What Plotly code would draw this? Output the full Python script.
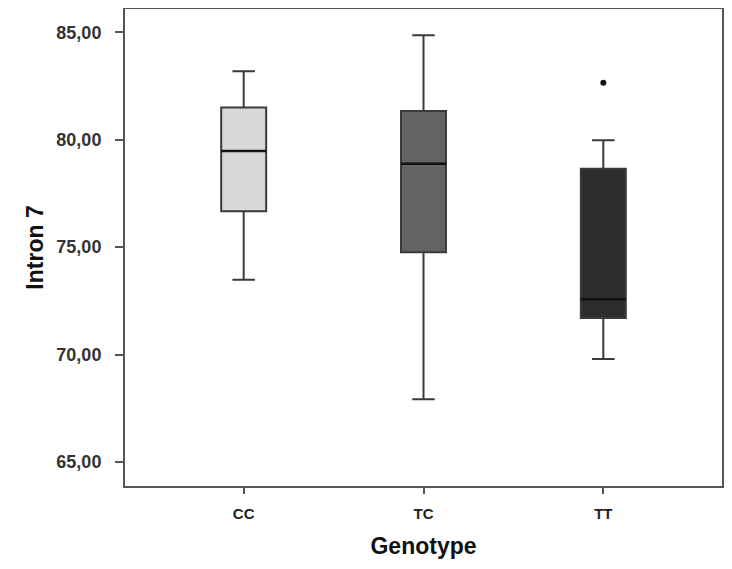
import plotly.graph_objects as go

genotypes = ["CC", "TC", "TT"]
lower_whisker = [73.48, 67.92, 69.79]
q1_values = [76.67, 74.76, 71.70]
medians = [79.47, 78.88, 72.57]
q3_values = [81.49, 81.33, 78.64]
upper_whisker = [83.18, 84.86, 79.97]
fill_colors = ["#d8d8d8", "#636363", "#2c2c2c"]

outlier_genotypes = ["TT"]
outlier_values = [82.65]

y_ticks = [65, 70, 75, 80, 85]
y_tick_labels = ["65,00", "70,00", "75,00", "80,00", "85,00"]

FONT = "Liberation Sans, Arial, sans-serif"

fig = go.Figure()
for i, g in enumerate(genotypes):
    fig.add_trace(go.Box(
        x=[g],
        q1=[q1_values[i]], median=[medians[i]], q3=[q3_values[i]],
        lowerfence=[lower_whisker[i]], upperfence=[upper_whisker[i]],
        fillcolor=fill_colors[i],
        line=dict(color="#3a3a3a", width=2),
        width=0.25,
        whiskerwidth=0.5,
        boxpoints=False,
        showlegend=False,
        hoverinfo="skip",
    ))
    fig.add_trace(go.Scatter(
        x=[i - 0.125, i + 0.125], y=[medians[i], medians[i]],
        mode="lines", line=dict(color="#111111", width=2.5),
        showlegend=False, hoverinfo="skip", xaxis="x2",
    ))

fig.add_trace(go.Scatter(
    x=outlier_genotypes, y=outlier_values, mode="markers",
    marker=dict(color="#111111", size=6),
    showlegend=False, hoverinfo="skip",
))

fig.update_layout(
    width=732, height=569,
    margin=dict(l=117, r=18, t=1, b=91, pad=0),
    paper_bgcolor="white", plot_bgcolor="white",
    font=dict(family=FONT, color="#333333"),
    xaxis=dict(
        type="category", categoryorder="array", categoryarray=genotypes,
        range=[-0.66, 2.66], automargin=False,
        showline=True, linecolor="#555555", linewidth=2, mirror=True,
        ticks="outside", ticklen=6, tickcolor="#555555", tickwidth=2,
        showgrid=False, zeroline=False,
        tickfont=dict(size=15, color="#222222", family=FONT, weight="bold"),
        ticklabelstandoff=7,
        title=dict(text="<b>Genotype</b>", font=dict(size=23, color="#111111"), standoff=17),
    ),
    xaxis2=dict(
        overlaying="x", range=[-0.66, 2.66], visible=False,
    ),
    yaxis=dict(
        range=[63.88, 86.08], automargin=False,
        tickvals=y_ticks, ticktext=y_tick_labels,
        showline=True, linecolor="#555555", linewidth=2, mirror=True,
        ticks="outside", ticklen=8, tickcolor="#555555", tickwidth=2,
        showgrid=False, zeroline=False,
        tickfont=dict(size=18, color="#333333", weight="bold"),
        ticklabelstandoff=10,
        title=dict(text="<b>Intron 7</b>", font=dict(size=23, color="#111111"), standoff=6),
    ),
)

fig.write_html("out.html")
